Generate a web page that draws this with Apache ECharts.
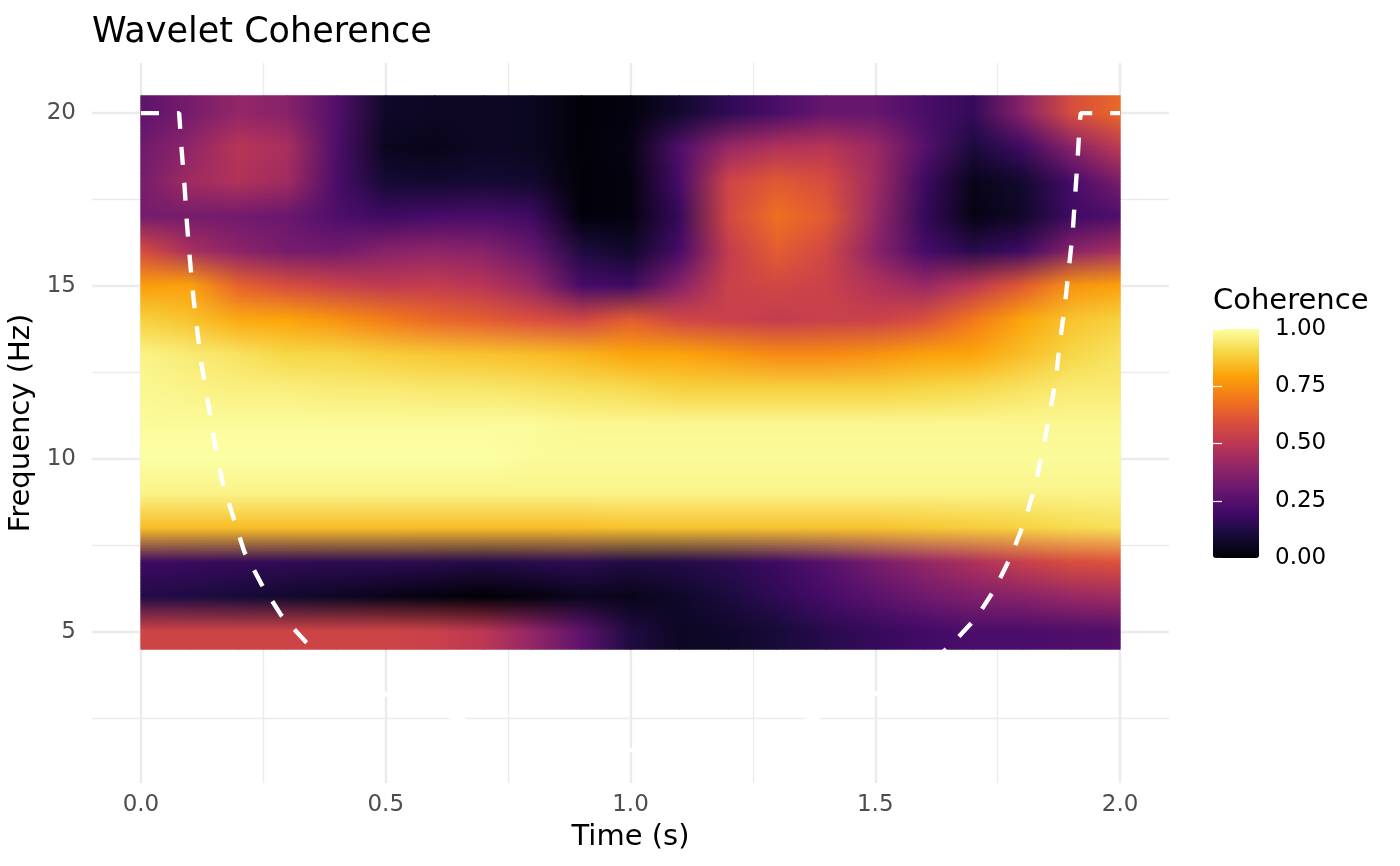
<!DOCTYPE html>
<html lang="en">
<head>
  <meta charset="UTF-8">
  <title>Wavelet Coherence</title>
  <script src="https://cdn.jsdelivr.net/npm/echarts@6/dist/echarts.min.js"></script>
  <style>
    html, body {
      margin: 0;
      padding: 0;
      width: 100%;
      height: 100%;
      background: #ffffff;
    }
    #main {
      width: 1400px;
      height: 866px;
    }
  </style>
</head>
<body>
  <div id="main"></div>

  <script>
    // time samples (s) and frequency rows (Hz), top row first
    const times = [0.0, 0.1, 0.2, 0.3, 0.4, 0.5, 0.6, 0.7, 0.8, 0.9, 1.0,
                   1.1, 1.2, 1.3, 1.4, 1.5, 1.6, 1.7, 1.8, 1.9, 2.0];
    const freqs = [20, 19, 18, 17, 16, 15, 14, 13, 12, 11, 10, 9, 8, 7, 6, 5];

    // coherence, one row per frequency, one column per time
    const coh20 = [0.27, 0.33, 0.40, 0.37, 0.24, 0.07, 0.06, 0.06, 0.05, 0.01, 0.02, 0.08, 0.16, 0.22, 0.29, 0.29, 0.22, 0.17, 0.37, 0.58, 0.66];
    const coh19 = [0.31, 0.39, 0.49, 0.45, 0.23, 0.05, 0.04, 0.06, 0.05, 0.01, 0.03, 0.23, 0.41, 0.47, 0.49, 0.42, 0.25, 0.11, 0.19, 0.37, 0.51];
    const coh18 = [0.33, 0.43, 0.47, 0.43, 0.22, 0.09, 0.08, 0.09, 0.08, 0.01, 0.02, 0.21, 0.55, 0.62, 0.58, 0.43, 0.19, 0.04, 0.08, 0.21, 0.34];
    const coh17 = [0.33, 0.33, 0.32, 0.30, 0.23, 0.19, 0.21, 0.22, 0.19, 0.01, 0.02, 0.17, 0.56, 0.68, 0.62, 0.41, 0.17, 0.03, 0.07, 0.19, 0.23];
    const coh16 = [0.58, 0.45, 0.38, 0.33, 0.32, 0.37, 0.39, 0.37, 0.29, 0.12, 0.07, 0.21, 0.52, 0.63, 0.56, 0.38, 0.21, 0.14, 0.19, 0.37, 0.45];
    const coh15 = [0.78, 0.79, 0.64, 0.58, 0.54, 0.51, 0.52, 0.49, 0.41, 0.21, 0.19, 0.37, 0.54, 0.56, 0.54, 0.47, 0.41, 0.50, 0.62, 0.76, 0.79];
    const coh14 = [0.89, 0.86, 0.81, 0.80, 0.76, 0.71, 0.66, 0.63, 0.59, 0.56, 0.63, 0.56, 0.54, 0.52, 0.54, 0.54, 0.59, 0.70, 0.80, 0.86, 0.89];
    const coh13 = [0.97, 0.95, 0.93, 0.90, 0.90, 0.88, 0.87, 0.86, 0.85, 0.83, 0.80, 0.80, 0.77, 0.74, 0.74, 0.76, 0.79, 0.80, 0.85, 0.90, 0.93];
    const coh12 = [0.98, 0.97, 0.96, 0.96, 0.95, 0.95, 0.94, 0.94, 0.93, 0.92, 0.91, 0.89, 0.89, 0.89, 0.89, 0.89, 0.90, 0.91, 0.93, 0.95, 0.95];
    const coh11 = [0.99, 0.99, 0.99, 0.99, 0.99, 0.99, 0.99, 0.99, 0.99, 0.98, 0.98, 0.98, 0.98, 0.98, 0.98, 0.98, 0.98, 0.98, 0.98, 0.98, 0.98];
    const coh10 = [1.00, 1.00, 1.00, 1.00, 1.00, 1.00, 1.00, 1.00, 0.99, 0.99, 0.99, 0.99, 0.99, 0.99, 0.99, 0.99, 0.99, 0.99, 0.99, 0.99, 0.99];
    const coh9  = [0.97, 0.97, 0.97, 0.97, 0.97, 0.97, 0.97, 0.97, 0.97, 0.97, 0.97, 0.97, 0.97, 0.97, 0.97, 0.97, 0.97, 0.97, 0.97, 0.97, 0.97];
    const coh8  = [0.85, 0.85, 0.85, 0.85, 0.85, 0.85, 0.85, 0.85, 0.85, 0.85, 0.86, 0.86, 0.86, 0.86, 0.86, 0.86, 0.87, 0.88, 0.89, 0.91, 0.92];
    const coh7  = [0.19, 0.18, 0.17, 0.16, 0.15, 0.15, 0.14, 0.13, 0.14, 0.15, 0.12, 0.13, 0.15, 0.19, 0.25, 0.33, 0.40, 0.46, 0.53, 0.58, 0.60];
    const coh6  = [0.13, 0.12, 0.10, 0.08, 0.06, 0.04, 0.02, 0.00, 0.02, 0.05, 0.04, 0.07, 0.11, 0.16, 0.21, 0.26, 0.31, 0.35, 0.37, 0.41, 0.43];
    const coh5  = [0.55, 0.55, 0.55, 0.55, 0.55, 0.55, 0.54, 0.50, 0.40, 0.27, 0.12, 0.06, 0.07, 0.10, 0.14, 0.17, 0.20, 0.22, 0.22, 0.23, 0.24];

    // cone of influence
    const coiTime = [0.000, 0.078, 0.079, 0.083, 0.089, 0.094, 0.100, 0.107, 0.116, 0.123, 0.140,
                     0.152, 0.167, 0.189, 0.211, 0.247, 0.286, 0.336, 0.395, 0.527, 0.645, 0.750,
                     0.870, 1.000, 1.130, 1.250, 1.379, 1.473, 1.605, 1.655, 1.706, 1.743, 1.777,
                     1.805, 1.826, 1.842, 1.856, 1.869, 1.877, 1.887, 1.895, 1.903, 1.908, 1.913,
                     1.918, 1.920, 2.000];
    const coiFreq = [20.0, 20.0, 19.8, 18.96, 17.9, 16.8, 15.76, 14.7, 13.6, 12.8, 11.37,
                     10.36, 9.3, 8.3, 7.32, 6.36, 5.49, 4.72, 4.0, 3.0, 2.5, 2.1,
                     1.8, 1.58, 1.8, 2.1, 2.5, 3.0, 4.0, 4.63, 5.4, 6.21, 7.18,
                     8.19, 9.2, 10.26, 11.27, 12.33, 13.36, 14.4, 15.46, 16.5, 17.55, 18.6,
                     19.8, 20.0, 20.0];

    const xMajor = [0, 0.5, 1, 1.5, 2];
    const xMinor = [0.25, 0.75, 1.25, 1.75];
    const yMajor = [5, 10, 15, 20];
    const yMinor = [2.5, 7.5, 12.5, 17.5];
    const legendTicks = [0, 0.25, 0.5, 0.75, 1];

    const coherence = [coh20, coh19, coh18, coh17, coh16, coh15, coh14, coh13,
                       coh12, coh11, coh10, coh9, coh8, coh7, coh6, coh5];

    const inferno = ['#000004', '#160B39', '#420A68', '#6A176E', '#932667', '#BC3754',
                     '#DD513A', '#F37819', '#FCA50A', '#F6D746', '#FCFFA4'];
    const FONT = 'DejaVu Sans';
    const GRID_COL = '#ebebeb';

    const nT = times.length;
    const nF = freqs.length;

    const cellColors = coherence.map(row =>
      row.map(v => echarts.color.lerp(Math.max(0, Math.min(1, v)), inferno))
    );

    const heatData = [];
    freqs.forEach((f, r) => {
      times.forEach((t, c) => {
        heatData.push([t, f, coherence[r][c]]);
      });
    });

    const coiData = coiTime.map((t, i) => [t, coiFreq[i]]);

    function mix(a, b, s) {
      return echarts.color.lerp(s, [a, b]);
    }

    // raster-like rendering: colours blended between neighbouring samples
    function renderCell(params, api) {
      const idx = params.dataIndex;
      const r = Math.floor(idx / nT);
      const c = idx % nT;
      const children = [];
      if (c === nT - 1) return { type: 'group', children: children };

      const tL = times[c];
      const tR = times[c + 1];
      const C = cellColors;

      function band(fTop, fBot, cTL, cTR, cBL, cBR) {
        const p0 = api.coord([tL, fTop]);
        const p1 = api.coord([tR, fBot]);
        const x0 = p0[0], x1 = p1[0], y0 = p0[1], y1 = p1[1];
        const n = Math.max(1, Math.ceil((y1 - y0) / 2));
        const h = (y1 - y0) / n;
        for (let k = 0; k < n; k++) {
          const s = (k + 0.5) / n;
          const left = mix(cTL, cBL, s);
          const right = mix(cTR, cBR, s);
          children.push({
            type: 'rect',
            shape: { x: x0 - 0.5, y: y0 + k * h - 0.5, width: x1 - x0 + 1, height: h + 1 },
            style: {
              fill: {
                type: 'linear', x: 0, y: 0, x2: 1, y2: 0,
                colorStops: [{ offset: 0, color: left }, { offset: 1, color: right }]
              }
            }
          });
        }
      }

      if (r < nF - 1) {
        band(freqs[r], freqs[r + 1], C[r][c], C[r][c + 1], C[r + 1][c], C[r + 1][c + 1]);
      }
      if (r === 0) {
        band(freqs[0] + 0.5, freqs[0], C[0][c], C[0][c + 1], C[0][c], C[0][c + 1]);
      }
      if (r === nF - 1) {
        band(freqs[r], freqs[r] - 0.5, C[r][c], C[r][c + 1], C[r][c], C[r][c + 1]);
      }
      return { type: 'group', children: children };
    }

    const chart = echarts.init(document.getElementById('main'));

    const option = {
      animation: false,
      backgroundColor: '#ffffff',
      textStyle: { fontFamily: FONT },
      title: [
        {
          text: 'Wavelet Coherence',
          left: 92,
          top: 15,
          padding: 0,
          textStyle: { fontFamily: FONT, fontSize: 35, fontWeight: 'normal', color: '#000000' }
        },
        {
          text: 'Coherence',
          left: 1213,
          top: 287,
          padding: 0,
          textStyle: { fontFamily: FONT, fontSize: 29, fontWeight: 'normal', color: '#000000' }
        }
      ],
      grid: [
        { left: 92, top: 63, width: 1077, height: 720, containLabel: false, outerBoundsMode: 'none' },
        { left: 1213, top: 329, width: 46, height: 229, containLabel: false, outerBoundsMode: 'none' }
      ],
      xAxis: [
        {
          type: 'value', gridIndex: 0, min: -0.1, max: 2.1,
          axisLine: { show: false },
          axisTick: { show: false, customValues: xMajor },
          axisLabel: {
            customValues: xMajor,
            formatter: v => v.toFixed(1),
            fontFamily: FONT, fontSize: 23, color: '#4d4d4d', margin: 11
          },
          splitLine: { show: true, lineStyle: { color: GRID_COL, width: 2.4 } },
          name: 'Time (s)',
          nameLocation: 'middle',
          nameGap: 40,
          nameTextStyle: { fontFamily: FONT, fontSize: 29, color: '#000000' }
        },
        {
          type: 'value', gridIndex: 0, min: -0.1, max: 2.1,
          axisLine: { show: false },
          axisTick: { show: false, customValues: xMinor },
          axisLabel: { show: false, customValues: xMinor },
          splitLine: { show: true, lineStyle: { color: GRID_COL, width: 1.3 } }
        },
        {
          type: 'value', gridIndex: 1, min: 0, max: 1, show: false
        }
      ],
      yAxis: [
        {
          type: 'value', gridIndex: 0, min: 0.63, max: 21.45,
          axisLine: { show: false },
          axisTick: { show: false, customValues: yMajor },
          axisLabel: {
            customValues: yMajor,
            formatter: v => String(v),
            fontFamily: FONT, fontSize: 23, color: '#4d4d4d', margin: 16
          },
          splitLine: { show: true, lineStyle: { color: GRID_COL, width: 2.4 } },
          name: 'Frequency (Hz)',
          nameLocation: 'middle',
          nameRotate: 90,
          nameGap: 48,
          nameTextStyle: { fontFamily: FONT, fontSize: 29, color: '#000000' }
        },
        {
          type: 'value', gridIndex: 0, min: 0.63, max: 21.45,
          axisLine: { show: false },
          axisTick: { show: false, customValues: yMinor },
          axisLabel: { show: false, customValues: yMinor },
          splitLine: { show: true, lineStyle: { color: GRID_COL, width: 1.3 } }
        },
        {
          type: 'value', gridIndex: 1, min: 0, max: 1, position: 'right', z: 10,
          axisLine: { show: false },
          axisTick: { show: true, inside: true, length: 9, customValues: legendTicks,
                      lineStyle: { color: '#ffffff', width: 1.2 } },
          axisLabel: {
            customValues: legendTicks,
            formatter: v => v.toFixed(2),
            fontFamily: FONT, fontSize: 23, color: '#000000', margin: 16
          },
          splitLine: { show: false }
        },
        {
          type: 'value', gridIndex: 1, min: 0, max: 1, position: 'left', z: 10,
          axisLine: { show: false },
          axisTick: { show: true, inside: true, length: 9, customValues: legendTicks,
                      lineStyle: { color: '#ffffff', width: 1.2 } },
          axisLabel: { show: false },
          splitLine: { show: false }
        }
      ],
      visualMap: {
        type: 'continuous',
        seriesIndex: 0,
        dimension: 2,
        min: 0,
        max: 1,
        orient: 'vertical',
        left: 1213,
        top: 329,
        padding: 0,
        itemWidth: 46,
        itemHeight: 229,
        calculable: false,
        hoverLink: false,
        showLabel: false,
        inRange: { color: inferno }
      },
      series: [
        {
          name: 'Coherence',
          type: 'custom',
          xAxisIndex: 0,
          yAxisIndex: 0,
          silent: true,
          renderItem: renderCell,
          encode: { x: 0, y: 1 },
          data: heatData,
          z: 2
        },
        {
          name: 'Cone of influence',
          type: 'line',
          xAxisIndex: 0,
          yAxisIndex: 0,
          data: coiData,
          showSymbol: false,
          symbol: 'none',
          silent: true,
          clip: true,
          lineStyle: { color: '#ffffff', width: 4.4, type: [18, 18], cap: 'butt' },
          z: 3
        }
      ]
    };

    chart.setOption(option);
    window.addEventListener('resize', () => chart.resize());
  </script>
</body>
</html>
